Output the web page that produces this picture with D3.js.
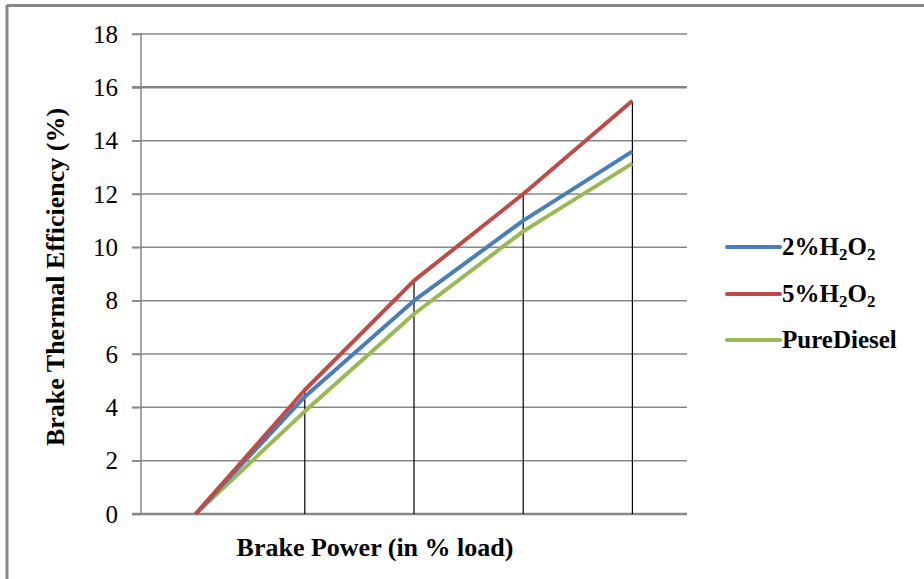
<!DOCTYPE html>
<html>
  <head>
    <meta charset="utf-8" />
    <script src="https://d3js.org/d3.v7.min.js"></script>
    <style>
      body {
        margin: 0;
        background: #fff;
      }
      text {
        font-family: "Liberation Serif", "Times New Roman", serif;
      }
    </style>
  </head>
  <body>
    <svg id="chart" width="924" height="579"></svg>
    <script>
      // load steps (no labels shown on the axis)
      var loads = ["0", "25", "50", "75", "100"];
      var yTicks = [0, 2, 4, 6, 8, 10, 12, 14, 16, 18];

      var h2o2_2 = [0, 4.4, 8.0, 11.0, 13.6];
      var h2o2_5 = [0, 4.65, 8.75, 12.0, 15.5];
      var pureDiesel = [0, 3.85, 7.5, 10.6, 13.15];

      var series = [
        { name: "2%", vals: h2o2_2, color: "#4a7ebb" },
        { name: "5%", vals: h2o2_5, color: "#be4b48" },
        { name: "PureDiesel", vals: pureDiesel, color: "#98b954" },
      ];

      var svg = d3.select("#chart");

      // outer frame (only top and left edges are visible)
      svg.append("line").attr("x1", 7).attr("x2", 924).attr("y1", 5.5).attr("y2", 5.5)
        .attr("stroke", "#888").attr("stroke-width", 3);
      svg.append("line").attr("x1", 7).attr("x2", 7).attr("y1", 5).attr("y2", 579)
        .attr("stroke", "#888").attr("stroke-width", 3);

      var pLeft = 141, pRight = 687, pTop = 34, pBottom = 514;

      var x = d3.scaleBand().domain(loads).range([pLeft, pRight]);
      var y = d3.scaleLinear().domain([0, 18]).range([pBottom, pTop]);

      // gridlines
      svg.append("g")
        .selectAll("line")
        .data(yTicks)
        .enter()
        .append("line")
        .attr("x1", pLeft - 9)
        .attr("x2", pRight)
        .attr("y1", (d) => y(d))
        .attr("y2", (d) => y(d))
        .attr("stroke", "#878787")
        .attr("stroke-width", (d) => (d == 0 || d == 16 ? 2.5 : 1.5));

      // y axis
      var yAxis = svg.append("g")
        .attr("transform", "translate(" + pLeft + ",0)")
        .call(d3.axisLeft(y).tickValues(yTicks).tickSize(9).tickPadding(14));
      yAxis.select(".domain").attr("stroke", "#878787").attr("stroke-width", 1.5)
        .attr("d", "M0," + (pTop - 1) + "V" + pBottom);
      yAxis.selectAll(".tick line").attr("stroke", "#878787").attr("stroke-width", 1.5);
      yAxis.selectAll(".tick text")
        .attr("font-size", 25)
        .attr("fill", "#000")
        .style("font-family", "'Liberation Serif', serif");

      // drop lines from the highest series down to the axis
      var dropIdx = d3.range(1, loads.length);
      svg.append("g")
        .selectAll("line")
        .data(dropIdx)
        .enter()
        .append("line")
        .attr("x1", (i) => x(loads[i]) + x.bandwidth() / 2)
        .attr("x2", (i) => x(loads[i]) + x.bandwidth() / 2)
        .attr("y1", (i) => y(d3.max(series, (s) => s.vals[i])))
        .attr("y2", pBottom)
        .attr("stroke", "#000")
        .attr("stroke-width", 1.2);

      var line = d3.line()
        .x((d, i) => x(loads[i]) + x.bandwidth() / 2)
        .y((d) => y(d));

      // draw green first, then blue, then red on top
      [series[2], series[0], series[1]].forEach(function (s) {
        svg.append("path")
          .datum(s.vals)
          .attr("d", line)
          .attr("fill", "none")
          .attr("stroke", s.color)
          .attr("stroke-width", 4)
          .attr("stroke-linejoin", "round");
      });

      // axis titles
      svg.append("text")
        .attr("transform", "translate(64,277) rotate(-90)")
        .attr("text-anchor", "middle")
        .attr("font-size", 26)
        .attr("font-weight", "bold")
        .text("Brake Thermal Efficiency (%)");

      svg.append("text")
        .attr("x", 375)
        .attr("y", 556)
        .attr("text-anchor", "middle")
        .attr("font-size", 26)
        .attr("font-weight", "bold")
        .text("Brake Power (in % load)");

      // legend
      var legend = svg.append("g");
      var legY = [247, 294, 340];
      series.forEach(function (s, i) {
        legend.append("line")
          .attr("x1", 727).attr("x2", 780)
          .attr("y1", legY[i]).attr("y2", legY[i])
          .attr("stroke", s.color).attr("stroke-width", 4)
          .attr("stroke-linecap", "round");
        var t = legend.append("text")
          .attr("x", 782)
          .attr("y", legY[i] + 8)
          .attr("font-size", 25)
          .attr("font-weight", "bold");
        if (s.name == "PureDiesel") {
          t.text("PureDiesel");
        } else {
          t.append("tspan").text(s.name + "H");
          t.append("tspan").attr("font-size", 17).attr("dy", 5).text("2");
          t.append("tspan").attr("dy", -5).text("O");
          t.append("tspan").attr("font-size", 17).attr("dy", 5).text("2");
        }
      });
    </script>
  </body>
</html>
